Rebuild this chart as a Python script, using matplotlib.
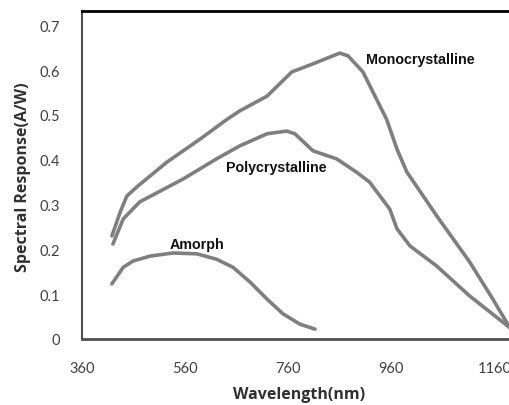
import numpy as np
import matplotlib.pyplot as plt

plt.rcParams['font.family'] = ['Lato', 'DejaVu Sans']

# --- datos ---
mono_wl = [418, 434, 447, 467, 525, 589, 641, 666, 719, 767, 808, 860, 876,
           905, 938, 951, 971, 990, 1048, 1112, 1157, 1190]
mono_sr = [0.23, 0.283, 0.319, 0.34, 0.395, 0.446, 0.49, 0.509, 0.542, 0.596,
           0.614, 0.638, 0.632, 0.596, 0.52, 0.49, 0.424, 0.373, 0.275, 0.172,
           0.089, 0.025]

poly_wl = [420, 440, 472, 556, 621, 666, 719, 757, 773, 808, 854, 893, 918,
           957, 971, 996, 1048, 1112, 1176, 1190]
poly_sr = [0.212, 0.268, 0.306, 0.357, 0.402, 0.431, 0.458, 0.464, 0.458,
           0.42, 0.402, 0.372, 0.35, 0.29, 0.246, 0.208, 0.163, 0.096, 0.038,
           0.025]

amor_wl = [418, 440, 459, 492, 537, 583, 621, 653, 686, 719, 750, 783, 812]
amor_sr = [0.123, 0.16, 0.174, 0.185, 0.192, 0.19, 0.178, 0.16, 0.127, 0.089,
           0.056, 0.033, 0.022]

x_ticks = [360, 560, 760, 960, 1160]
y_ticks = [0, 0.1, 0.2, 0.3, 0.4, 0.5, 0.6, 0.7]
y_labels = ["0", "0.1", "0.2", "0.3", "0.4", "0.5", "0.6", "0.7"]

fig = plt.figure(figsize=(5.10, 4.06), dpi=100)
ax = fig.add_axes([82 / 510, 66 / 406, (515 - 82) / 510, 328 / 406])

gris = '#7f7f7f'
for wl, sr in [(mono_wl, mono_sr), (poly_wl, poly_sr), (amor_wl, amor_sr)]:
    ax.plot(wl, sr, color=gris, lw=2.6, solid_capstyle='round',
            solid_joinstyle='round')

ax.set_xlim(360, 1200)
ax.set_ylim(0, 0.732)
ax.set_xticks(x_ticks)
ax.set_yticks(y_ticks)
ax.set_yticklabels(y_labels)
ax.tick_params(length=0, labelsize=10.5, labelcolor='#404040', pad=16)

ax.spines['right'].set_visible(False)
ax.spines['top'].set_color('black')
ax.spines['top'].set_linewidth(2)
ax.spines['left'].set_color('#505050')
ax.spines['left'].set_linewidth(1.5)
ax.spines['bottom'].set_color('#505050')
ax.spines['bottom'].set_linewidth(2)

# etiquetas de las curvas
for txt, x, y in [("Monocrystalline", 1017, 0.625),
                  ("Polycrystalline", 736, 0.384),
                  ("Amorph", 583, 0.212)]:
    ax.text(x, y, txt, fontsize=10.3, fontweight='bold', ha='center',
            va='center', family=['Liberation Sans'], color='#111111')

fig.text(299 / 510, 1 - 395 / 406, "Wavelength(nm)", fontsize=11.5,
         fontweight='bold', color='#303030', ha='center', va='center',
         family=['Open Sans'])
fig.text(23 / 510, 1 - 177 / 406, "Spectral Response(A/W)", fontsize=11.5,
         fontweight='bold', color='#303030', ha='center', va='center',
         rotation=90, family=['Open Sans'])

fig.savefig("out.png", dpi=100)
